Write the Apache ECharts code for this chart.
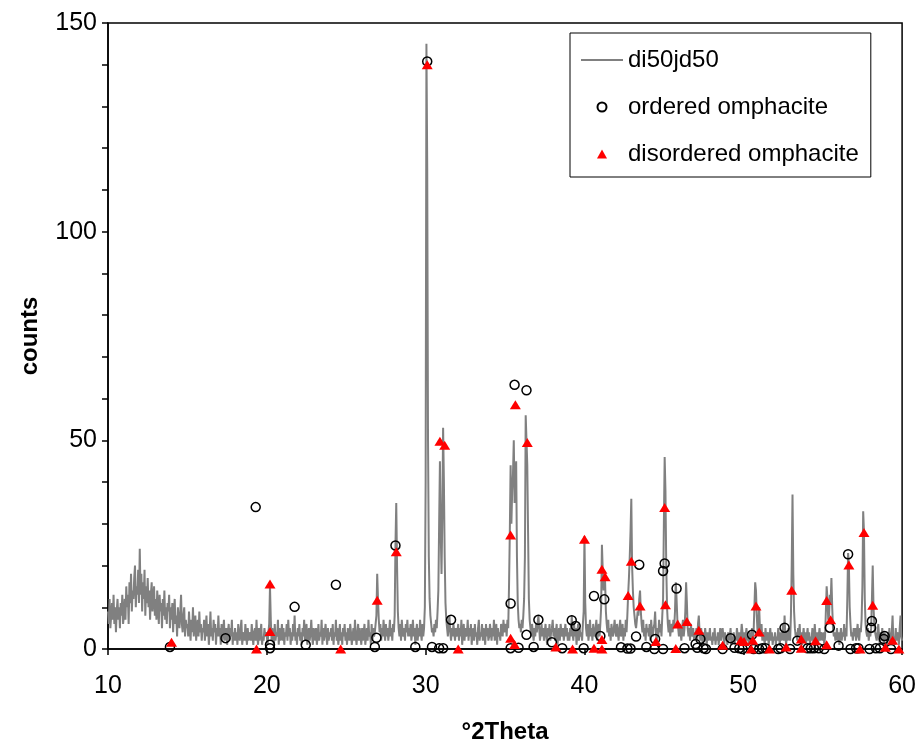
<!DOCTYPE html>
<html>
<head>
<meta charset="utf-8">
<script src="https://cdn.jsdelivr.net/npm/echarts@6/dist/echarts.min.js"></script>
<style>
html,body{margin:0;padding:0;background:#fff;}
#chart{width:919px;height:749px;}
</style>
</head>
<body>
<div id="chart"></div>
<script>
// Diffraction scan: start angle, step (°2Theta) and counts
const scanStart = 10;
const scanStep = 0.05;
const counts = [
  // 10
  9,6,12,5,8,11,7,13,6,10,4,9,12,7,10,5,11,8,13,6,
  // 11
  8,12,7,15,10,13,6,16,11,18,9,14,12,17,20,10,15,13,19,11,
  // 12
  24,13,18,9,16,12,19,8,15,11,17,10,14,7,13,16,9,12,15,8,
  // 13
  12,7,14,10,6,13,9,11,5,12,8,14,7,10,6,11,9,13,5,10,
  // 14
  7,11,4,9,12,6,8,3,10,7,5,9,13,6,4,8,10,3,7,5,
  // 15
  6,3,9,5,2,7,4,10,3,6,8,2,5,7,3,9,4,6,2,5,
  // 16
  4,7,2,5,8,3,6,1,4,9,3,5,2,7,4,6,1,5,3,8,
  // 17
  3,5,1,6,2,4,7,2,3,5,1,4,6,2,5,3,7,1,4,2,
  // 18
  5,2,4,1,6,3,2,5,7,1,3,4,2,6,3,1,5,2,4,3,
  // 19
  2,6,3,1,4,5,2,7,3,1,5,2,4,6,1,3,2,5,3,4,
  // 20
  3,1,4,6,15,7,2,5,3,1,6,2,4,3,7,1,5,2,3,6,
  // 21
  2,5,1,4,3,6,2,7,3,5,1,4,2,6,3,8,2,4,1,5,
  // 22
  3,6,2,4,1,5,3,7,2,4,6,1,3,5,2,4,7,3,1,5,
  // 23
  4,2,5,1,3,6,2,4,3,7,1,5,2,4,6,3,1,5,2,4,
  // 24
  3,5,2,6,1,4,3,7,2,5,1,3,6,2,4,1,5,3,6,2,
  // 25
  4,1,5,3,2,6,4,1,3,5,2,7,3,1,4,6,2,5,3,1,
  // 26
  5,2,4,6,1,3,5,2,7,3,4,1,6,2,5,3,4,6,8,18,
  // 27
  12,7,4,6,2,5,3,7,4,2,6,3,5,2,4,7,3,5,2,6,
  // 28
  4,8,25,35,20,9,5,3,6,2,7,4,3,5,2,6,4,7,3,5,
  // 29
  3,6,2,4,7,3,5,1,4,6,2,5,3,7,4,2,6,3,5,10,
  // 30
  40,145,115,50,22,12,8,6,4,5,3,6,4,7,5,9,14,30,45,28,
  // 31
  18,32,53,40,22,11,7,5,3,6,8,4,2,5,3,6,4,2,5,3,
  // 32
  4,6,2,5,3,7,1,4,6,2,5,3,4,7,2,5,3,6,1,4,
  // 33
  5,2,6,3,4,1,5,7,2,4,3,6,2,5,4,1,6,3,5,2,
  // 34
  3,6,4,2,5,3,7,2,4,6,1,5,3,4,2,6,5,3,7,4,
  // 35
  4,6,3,7,5,15,28,44,30,38,42,50,35,40,45,22,11,7,5,6,
  // 36
  4,7,5,8,12,22,56,50,44,28,12,7,5,3,6,4,2,5,3,6,
  // 37
  4,6,8,5,2,4,6,3,5,2,4,6,3,1,5,3,6,2,4,5,
  // 38
  7,3,5,2,4,6,1,3,5,2,6,4,3,5,2,4,6,3,5,2,
  // 39
  4,2,5,3,8,4,2,6,3,5,1,4,6,2,5,3,4,2,6,9,
  // 40
  27,11,5,3,6,2,4,7,3,5,2,6,4,3,5,7,2,4,6,3,
  // 41
  6,10,25,19,14,18,16,9,6,4,7,3,5,2,6,4,3,5,7,4,
  // 42
  3,6,4,2,5,7,3,4,6,2,5,3,7,4,8,13,17,22,28,36,
  // 43
  20,14,10,8,6,5,7,9,8,12,14,9,6,4,7,3,5,2,6,4,
  // 44
  5,3,6,2,7,4,3,5,6,9,4,2,5,3,7,4,6,3,8,12,
  // 45
  30,46,38,20,10,6,4,7,3,5,6,4,7,5,9,16,12,7,5,3,
  // 46
  6,4,2,5,7,3,5,9,16,11,5,3,5,2,6,4,3,5,2,4,
  // 47
  3,5,2,6,8,4,2,5,3,1,4,2,5,3,1,4,2,3,5,2,
  // 48
  3,1,4,2,5,1,3,2,4,1,3,5,2,4,5,3,1,4,2,3,
  // 49
  1,4,2,3,5,1,3,2,4,1,3,2,5,3,1,4,2,3,6,4,
  // 50
  2,4,1,3,5,2,3,1,4,2,3,5,2,4,10,16,14,8,4,6,
  // 51
  10,5,3,6,2,4,3,1,5,2,3,4,1,3,5,2,4,1,3,2,
  // 52
  4,1,3,2,5,3,1,4,2,3,6,2,8,3,1,4,2,5,3,2,
  // 53
  8,20,37,18,9,5,3,4,2,5,3,6,2,4,1,3,5,2,4,1,
  // 54
  3,5,2,4,1,3,2,5,3,1,6,3,2,4,1,3,5,2,4,3,
  // 55
  2,4,1,3,9,15,12,7,8,13,11,17,10,5,3,4,2,3,5,2,
  // 56
  4,1,3,5,2,4,3,6,2,5,3,12,23,20,10,6,3,4,2,5,
  // 57
  3,5,2,4,6,3,2,5,4,7,15,33,28,12,6,4,3,5,2,4,
  // 58
  3,5,12,20,10,6,4,3,2,4,6,3,1,4,2,5,3,1,4,2,
  // 59
  3,1,4,2,5,1,3,4,8,2,3,1,5,2,4,3,1,5,8,3,
  // 60
  2
];

// ordered omphacite reflections
const orderedTheta = [13.9,17.4,19.3,20.2,20.2,21.75,22.45,24.35,26.8,26.9,28.1,29.35,30.1,30.4,30.85,31.1,31.6,
  35.35,35.35,35.6,35.85,36.35,36.35,36.8,37.1,37.95,38.6,39.2,39.45,39.95,40.6,41.0,41.25,42.3,42.7,42.9,43.25,43.45,43.9,
  44.4,44.45,44.95,44.95,45.05,45.8,46.3,47.0,47.1,47.3,47.5,47.65,48.7,49.2,49.45,49.75,49.95,50.55,50.65,51.0,51.2,51.4,
  52.2,52.35,52.6,52.95,53.4,54.05,54.25,54.45,54.75,55.1,55.45,56.0,56.6,56.75,57.1,57.25,57.95,58.05,58.1,58.35,58.6,58.85,58.9,59.3];
const orderedCounts = [0.5,2.6,34,1.0,0.2,10.1,1,15.4,0.5,2.7,24.8,0.5,140.8,0.5,0.2,0.2,7,
  10.9,0.2,63.3,0.3,3.4,62,0.5,7,1.6,0.2,6.9,5.5,0.2,12.7,3.1,11.9,0.4,0.1,0.1,3,20.2,0.5,
  0,2.4,0,18.7,20.5,14.5,0.2,1.2,0.3,2.4,0.2,0,0,2.6,0.3,0.2,0,3.4,0,0,0.2,0.2,
  0,0.2,5.1,0,2,0.2,0.2,0.2,0.2,0,5.1,0.8,22.7,0,0.2,0.2,0,5.1,6.7,0.2,0.2,2.4,3.1,0];

// disordered omphacite reflections
const disorderedTheta = [14.0,19.35,20.2,20.2,24.65,26.95,28.15,30.1,30.9,31.2,32.05,35.35,35.35,35.6,35.65,36.4,
  38.2,39.25,40.0,40.6,41.1,41.1,41.1,41.3,42.75,42.95,43.5,44.5,45.05,45.1,45.75,45.87,46.45,47.2,48.7,49.85,50.05,
  50.5,50.6,50.8,51.0,51.65,52.7,53.05,53.65,53.65,54.55,55.25,55.25,55.5,56.65,57.35,57.6,58.15,58.95,59.4,59.8];
const disorderedCounts = [1.6,0,15.6,4.2,0,11.7,23.3,140,49.8,48.8,0,27.3,2.6,1.1,58.5,49.5,
  0.5,0,26.3,0.2,0,2.3,19.1,17.3,12.8,21,10.3,1.8,33.9,10.6,0.1,6,6.6,4.5,0.9,2.1,1.8,
  0,2.1,10.3,4.1,0,0.5,14.1,2.4,0.2,2,1,11.6,7,20.1,0,27.9,10.5,0.4,2.1,0];

const yTickLabels = [0, 50, 100, 150];

const scanData = counts.map((c, i) => [+(scanStart + i * scanStep).toFixed(2), c]);
const orderedData = orderedTheta.map((x, i) => [x, orderedCounts[i]]);
const disorderedData = disorderedTheta.map((x, i) => [x, disorderedCounts[i]]);

const FONT = '"Liberation Sans", Arial, sans-serif';
const TRI = 'path://M5,0L10,9L0,9Z';

const chart = echarts.init(document.getElementById('chart'), null, {renderer: 'canvas'});
chart.setOption({
  animation: false,
  backgroundColor: '#fff',
  grid: {left: 108, right: 16, top: 23, bottom: 94, show: true, borderColor: '#000', borderWidth: 1.5, backgroundColor: 'transparent'},
  legend: {
    orient: 'vertical', left: 570, top: 33,
    padding: [13, 12, 9, 10], itemGap: 19, itemWidth: 42, itemHeight: 9,
    borderColor: '#000', borderWidth: 1, backgroundColor: '#fff',
    textStyle: {fontSize: 24, color: '#000', fontFamily: FONT, lineHeight: 28},
    data: [
      {name: 'di50jd50', itemStyle: {opacity: 0}},
      'ordered omphacite',
      'disordered omphacite'
    ]
  },
  xAxis: {
    type: 'value', min: 10, max: 60, interval: 10,
    name: '°2Theta', nameLocation: 'middle', nameGap: 71,
    nameTextStyle: {fontSize: 24, fontWeight: 'bold', color: '#000', fontFamily: FONT},
    axisLine: {onZero: false, lineStyle: {color: '#000', width: 1.5}},
    axisTick: {show: true, length: 6, lineStyle: {color: '#000', width: 1.5}},
    axisLabel: {fontSize: 25, color: '#000', fontFamily: FONT, margin: 25},
    splitLine: {show: false}
  },
  yAxis: {
    type: 'value', min: 0, max: 150, interval: 10,
    name: 'counts', nameLocation: 'middle', nameGap: 66, nameRotate: 90,
    nameTextStyle: {fontSize: 24, fontWeight: 'bold', color: '#000', fontFamily: FONT},
    axisLine: {show: true, lineStyle: {color: '#000', width: 1.5}},
    axisTick: {show: true, length: 6, lineStyle: {color: '#000', width: 1.5}},
    axisLabel: {fontSize: 25, color: '#000', fontFamily: FONT, margin: 11,
      formatter: v => (yTickLabels.indexOf(v) >= 0 ? String(v) : '')},
    splitLine: {show: false}
  },
  series: [
    {
      name: 'di50jd50', type: 'line', data: scanData,
      showSymbol: false, symbol: 'none', sampling: null,
      lineStyle: {color: '#808080', width: 2},
      itemStyle: {color: '#808080'},
      z: 2
    },
    {
      name: 'ordered omphacite', type: 'scatter', data: orderedData,
      symbol: 'circle', symbolSize: 9,
      itemStyle: {color: 'rgba(0,0,0,0)', borderColor: '#000', borderWidth: 1.5, opacity: 1},
      z: 3
    },
    {
      name: 'disordered omphacite', type: 'scatter', data: disorderedData,
      symbol: TRI, symbolSize: [11, 10], symbolKeepAspect: true,
      itemStyle: {color: '#ff0000', opacity: 1},
      z: 4
    }
  ]
});
</script>
</body>
</html>
